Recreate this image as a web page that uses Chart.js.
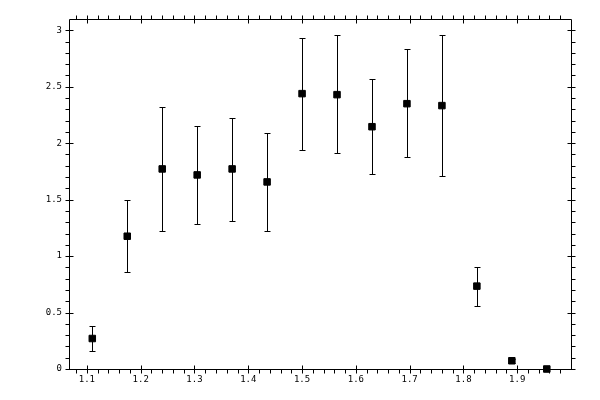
<!DOCTYPE html>
<html>
<head>
<meta charset="utf-8">
<script src="https://cdn.jsdelivr.net/npm/chart.js@4.4.1/dist/chart.umd.min.js"></script>
<style>
  html, body { margin: 0; padding: 0; background: #fff; }
  #wrap { width: 600px; height: 400px; }
</style>
</head>
<body>
<div id="wrap"><canvas id="chart" width="600" height="400"></canvas></div>
<script>
const xValues = [1.11, 1.175, 1.24, 1.305, 1.37, 1.435, 1.5, 1.565, 1.63, 1.695, 1.76, 1.825, 1.89, 1.955];
const yValues = [0.27, 1.176, 1.772, 1.719, 1.772, 1.657, 2.439, 2.43, 2.146, 2.35, 2.333, 0.734, 0.073, 0.0];
const errLow  = [0.162, 0.856, 1.221, 1.283, 1.31, 1.221, 1.941, 1.915, 1.728, 1.879, 1.71, 0.556, 0.055, 0.0];
const errHigh = [0.384, 1.496, 2.324, 2.155, 2.226, 2.086, 2.934, 2.955, 2.573, 2.831, 2.955, 0.9, 0.09, 0.0];

const xTickLabels = [1.1, 1.2, 1.3, 1.4, 1.5, 1.6, 1.7, 1.8, 1.9];
const yTickLabels = [0, 0.5, 1, 1.5, 2, 2.5, 3];
const xMinorTicks = [1.08, 1.12, 1.14, 1.16, 1.18, 1.22, 1.24, 1.26, 1.28, 1.32, 1.34, 1.36, 1.38,
  1.42, 1.44, 1.46, 1.48, 1.52, 1.54, 1.56, 1.58, 1.62, 1.64, 1.66, 1.68, 1.72, 1.74, 1.76, 1.78,
  1.82, 1.84, 1.86, 1.88, 1.92, 1.94, 1.96, 1.98];
const yMinorTicks = [0.1, 0.2, 0.3, 0.4, 0.6, 0.7, 0.8, 0.9, 1.1, 1.2, 1.3, 1.4, 1.6, 1.7, 1.8, 1.9,
  2.1, 2.2, 2.3, 2.4, 2.6, 2.7, 2.8, 2.9];

const X_MIN = 1.0667, X_MAX = 2.0;
const Y_MIN = 0, Y_MAX = 3.1;

// frame and ticks on all four sides (majors cross the frame, minors point outward)
const framePlugin = {
  id: 'frame',
  afterDraw(chart) {
    const { ctx, chartArea: a, scales } = chart;
    const xs = scales.x, ys = scales.y;
    const L = Math.round(a.left) + 0.5, R = Math.round(a.right) + 0.5;
    const T = Math.round(a.top) + 0.5, B = Math.round(a.bottom) + 0.5;
    ctx.save();
    ctx.strokeStyle = '#000';
    ctx.lineWidth = 1;
    ctx.beginPath();
    ctx.rect(L, T, R - L, B - T);
    xTickLabels.forEach(v => {
      const px = Math.round(xs.getPixelForValue(v)) + 0.5;
      ctx.moveTo(px, B - 4); ctx.lineTo(px, B + 4);
      ctx.moveTo(px, T - 4); ctx.lineTo(px, T + 4);
    });
    xMinorTicks.forEach(v => {
      const px = Math.round(xs.getPixelForValue(v)) + 0.5;
      ctx.moveTo(px, B); ctx.lineTo(px, B + 4);
      ctx.moveTo(px, T); ctx.lineTo(px, T - 4);
    });
    yTickLabels.forEach(v => {
      const py = Math.round(ys.getPixelForValue(v)) + 0.5;
      ctx.moveTo(L - 4, py); ctx.lineTo(L + 4, py);
      ctx.moveTo(R - 4, py); ctx.lineTo(R + 4, py);
    });
    yMinorTicks.forEach(v => {
      const py = Math.round(ys.getPixelForValue(v)) + 0.5;
      ctx.moveTo(L, py); ctx.lineTo(L - 4, py);
      ctx.moveTo(R, py); ctx.lineTo(R + 4, py);
    });
    ctx.stroke();
    ctx.restore();
  }
};

// vertical error bars with small caps
const errorBarPlugin = {
  id: 'errorBars',
  beforeDatasetsDraw(chart) {
    const { ctx, scales } = chart;
    ctx.save();
    ctx.strokeStyle = '#000';
    ctx.lineWidth = 1;
    ctx.beginPath();
    xValues.forEach((x, i) => {
      if (errHigh[i] - errLow[i] <= 0) return;
      const px = Math.round(scales.x.getPixelForValue(x)) + 0.5;
      const lo = Math.round(scales.y.getPixelForValue(errLow[i])) + 0.5;
      const hi = Math.round(scales.y.getPixelForValue(errHigh[i])) + 0.5;
      ctx.moveTo(px, lo); ctx.lineTo(px, hi);
      ctx.moveTo(px - 3, lo); ctx.lineTo(px + 3, lo);
      ctx.moveTo(px - 3, hi); ctx.lineTo(px + 3, hi);
    });
    ctx.stroke();
    ctx.restore();
  }
};

const tickFont = { family: 'DejaVu Sans Mono', size: 9 };

new Chart(document.getElementById('chart'), {
  type: 'scatter',
  data: {
    datasets: [{
      data: xValues.map((x, i) => ({ x: x, y: yValues[i] })),
      pointStyle: 'rect',
      pointRadius: 4.6,
      pointHoverRadius: 4.6,
      backgroundColor: '#000',
      borderColor: '#000',
      borderWidth: 1,
      clip: false
    }]
  },
  options: {
    responsive: false,
    animation: false,
    devicePixelRatio: 1,
    layout: { padding: { top: 19, right: 29, left: 0, bottom: 0 } },
    plugins: { legend: { display: false }, tooltip: { enabled: false } },
    scales: {
      x: {
        type: 'linear',
        min: X_MIN,
        max: X_MAX,
        afterBuildTicks: s => { s.ticks = xTickLabels.map(v => ({ value: v })); },
        afterFit: s => { s.height = 31; },
        grid: { display: false, drawTicks: false },
        border: { display: false },
        ticks: { font: tickFont, color: '#000', padding: 5, maxRotation: 0,
          callback: v => v.toFixed(1) }
      },
      y: {
        type: 'linear',
        min: Y_MIN,
        max: Y_MAX,
        afterBuildTicks: s => { s.ticks = yTickLabels.map(v => ({ value: v })); },
        afterFit: s => { s.width = 69; },
        grid: { display: false, drawTicks: false },
        border: { display: false },
        ticks: { font: tickFont, color: '#000', padding: 7,
          callback: v => String(v) }
      }
    }
  },
  plugins: [errorBarPlugin, framePlugin]
});
</script>
</body>
</html>
